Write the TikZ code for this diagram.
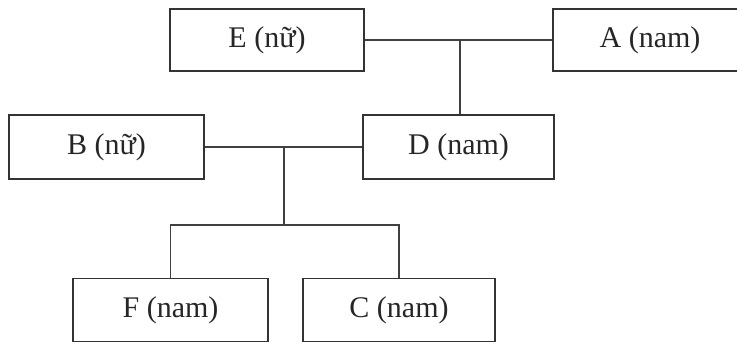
\documentclass[tikz,border=0pt]{standalone}
\usepackage{fontspec}
\setmainfont{Liberation Serif}
\begin{document}
\begin{tikzpicture}[x=1pt,y=-1pt,
  person/.style={draw=black!80, line width=1.4pt, rectangle, minimum width=194pt, minimum height=62pt, inner sep=0pt, font=\fontsize{30}{34}\selectfont, text=black!85},
  link/.style={draw=black!75, line width=1.1pt}]
\useasboundingbox (0,0) rectangle (737,345);
\clip (0,0) rectangle (737,345);
\node[person] (E) at (267,40) {E (nữ)};
\node[person] (A) at (650,40) {A (nam)};
\node[person, minimum width=195pt, minimum height=64pt] (B) at (106.5,147) {B (nữ)};
\node[person, minimum width=191pt, minimum height=64pt] (D) at (458.5,147) {D (nam)};
\node[person, minimum width=195pt, minimum height=63pt] (F) at (170.5,310) {F (nam)};
\node[person, minimum width=192pt, minimum height=63pt] (C) at (399,310) {C (nam)};
\coordinate (j1) at (460,40);
\coordinate (j2) at (284,147);
\coordinate (j3) at (284,225);
\draw[link] (E.east) -- (A.west);
\draw[link] (j1) -- (j1 |- D.north);
\draw[link] (B.east) -- (D.west);
\draw[link] (j2) -- (j3);
\draw[link] (F.north) |- (j3) -| (C.north);
\end{tikzpicture}
\end{document}
